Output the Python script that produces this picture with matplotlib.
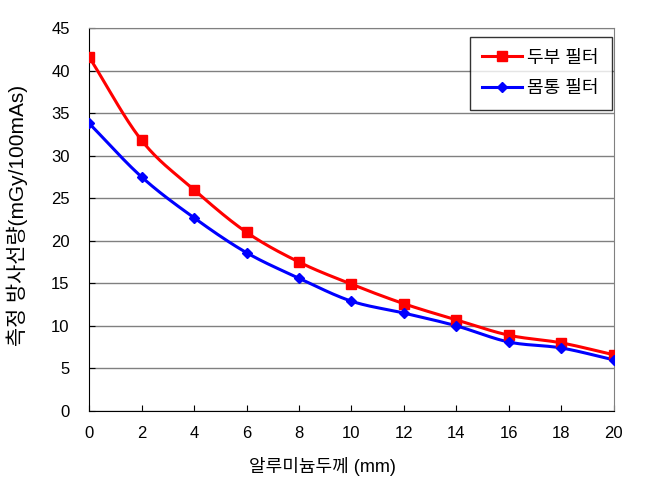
import numpy as np
import matplotlib
matplotlib.use("Agg")
import matplotlib.pyplot as plt

plt.rcParams['font.family'] = ['Liberation Sans', 'Noto Sans CJK KR', 'DejaVu Sans']

thickness = [0, 2, 4, 6, 8, 10, 12, 14, 16, 18, 20]
head_filter = [41.6, 31.8, 26.0, 21.0, 17.5, 14.9, 12.6, 10.7, 8.9, 8.0, 6.6]
body_filter = [33.8, 27.5, 22.7, 18.6, 15.6, 12.9, 11.5, 10.0, 8.1, 7.4, 6.0]
series_names = ['두부 필터', '몸통 필터']
x_label = '알루미늄두께 (mm)'
y_label = '측정 방사선량(mGy/100mAs)'


def smooth(xs, ys, n=20):
    # Catmull-Rom spline for drawing a smoothed line through the data points
    p = np.column_stack([xs, ys]).astype(float)
    p = np.vstack([p[0] - (p[1] - p[0]), p, p[-1] + (p[-1] - p[-2])])
    out = []
    t = np.linspace(0, 1, n, endpoint=False)[:, None]
    for i in range(1, len(p) - 2):
        p0, p1, p2, p3 = p[i - 1], p[i], p[i + 1], p[i + 2]
        seg = 0.5 * ((2 * p1) + (-p0 + p2) * t + (2 * p0 - 5 * p1 + 4 * p2 - p3) * t ** 2
                     + (-p0 + 3 * p1 - 3 * p2 + p3) * t ** 3)
        out.append(seg)
    out.append(p[-2][None, :])
    out = np.vstack(out)
    return out[:, 0], out[:, 1]


fig = plt.figure(figsize=(6.46, 4.84), dpi=100)
ax = fig.add_axes([0.138, 0.151, 0.812, 0.791])

for ys, color, marker, ms, name in [(head_filter, '#ff0000', 's', 7, series_names[0]),
                                     (body_filter, '#0000ff', 'D', 5, series_names[1])]:
    sx, sy = smooth(thickness, ys)
    ax.plot(sx, sy, color=color, lw=2.2, zorder=3)
    ax.plot(thickness, ys, linestyle='none', marker=marker, ms=ms, color=color, zorder=4)
    ax.plot([], [], color=color, lw=2.2, marker=marker, ms=ms, label=name)

ax.set_xlim(0, 20)
ax.set_ylim(0, 45)
ax.set_xticks(range(0, 21, 2))
ax.set_yticks(range(0, 46, 5))
ax.grid(axis='y', color='#808080', lw=1)
ax.set_axisbelow(True)
ax.tick_params(direction='in', length=4, labelsize=12)
ax.tick_params(axis='y', pad=14)
ax.tick_params(axis='x', pad=11)
for s in ['left', 'bottom']:
    ax.spines[s].set_color('black')
for s in ['top', 'right']:
    ax.spines[s].set_color('#808080')

fig.text(322 / 646, 1 - 467 / 484, x_label, fontsize=13, ha='center', va='center')
fig.text(17 / 646, 1 - 215 / 484, y_label, fontsize=15, ha='center', va='center',
         rotation=90)

leg = ax.legend(loc='upper right', bbox_to_anchor=(0.996, 0.977), borderaxespad=0,
                fontsize=13, frameon=True, fancybox=False, edgecolor='black',
                handlelength=2.2, handletextpad=0.3, borderpad=0.7, labelspacing=0.75)
leg.get_frame().set_linewidth(1)

fig.savefig('out.png', dpi=100)
